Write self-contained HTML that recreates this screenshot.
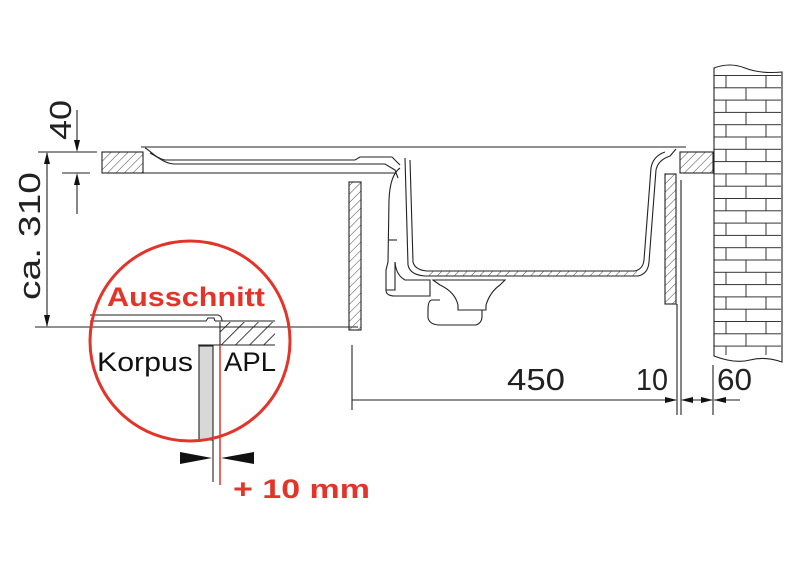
<!DOCTYPE html>
<html><head><style>
html,body{margin:0;padding:0;background:#fff;}
svg{display:block;}
text{font-family:"Liberation Sans",sans-serif;}
</style></head><body>
<svg width="800" height="562" viewBox="0 0 800 562" xmlns="http://www.w3.org/2000/svg">
<defs>
<pattern id="h" width="6" height="6" patternUnits="userSpaceOnUse" patternTransform="rotate(45)">
<line x1="0" y1="0" x2="0" y2="6" stroke="#444" stroke-width="1"/>
</pattern>
<pattern id="h2" width="10" height="10" patternUnits="userSpaceOnUse" patternTransform="rotate(45)">
<line x1="0" y1="0" x2="0" y2="10" stroke="#111" stroke-width="1.6"/>
</pattern>
<pattern id="brick" x="714" y="75" width="40" height="24.6" patternUnits="userSpaceOnUse">
<line x1="0" y1="0.5" x2="40" y2="0.5" stroke="#333" stroke-width="1"/>
<line x1="0" y1="12.8" x2="40" y2="12.8" stroke="#333" stroke-width="1"/>
<line x1="12" y1="0" x2="12" y2="12.3" stroke="#333" stroke-width="1"/>
<line x1="32" y1="12.3" x2="32" y2="24.6" stroke="#333" stroke-width="1"/>
</pattern>
</defs>
<g fill="none" stroke="#222" stroke-width="1.1">
<line x1="38" y1="152" x2="97" y2="152"/>
<line x1="62" y1="173" x2="90" y2="173"/>
<line x1="77" y1="110" x2="77" y2="150"/>
<line x1="77" y1="175" x2="77" y2="214"/>
<line x1="47" y1="153" x2="47" y2="326"/>
<line x1="35" y1="327" x2="358" y2="327"/>
<rect x="102" y="152" width="41" height="21" fill="url(#h)"/>
<line x1="143" y1="173" x2="395" y2="173"/>
<path d="M141 147 L686 147"/>
<path d="M145 148 C150 150 155 158 165 160 L355 160 L360 157 L392 157 L400 165"/>
<path d="M150 153 C160 158 165 164 175 164 L385 164 L395 170 L398 178"/>
<path d="M405 158 L408 265 Q410 275 425 276 L638 276 Q648 274 649 262 L656 170 Q658 160 670 156 L676 149"/>
<path d="M410 160 L413 262 Q415 270 427 271 L635 271 Q643 269 644 260 L651 168 Q653 156 665 152"/>
<rect x="425" y="271" width="212" height="5" fill="url(#h)" stroke="none"/>
<path d="M400 168 Q390 175 389 200 L388 262 L386 270 L386 290 L395 290 L395 262"/>
<path d="M395 262 Q396 275 405 280 L430 280 L430 296 L395 296 Q386 296 386 290"/>
<line x1="389" y1="240" x2="397" y2="240"/>
<path d="M433 280 L505 280 L500 285 Q490 292 486 305 L486 310 L458 310 L458 305 Q455 292 440 285 Z"/>
<path d="M440 300 L432 300 Q428 300 428 310 L428 318 Q430 325 440 325 L476 325 Q482 323 482 316 L482 310"/>
<rect x="349" y="182" width="12" height="148" fill="url(#h)"/>
<rect x="665" y="174" width="11" height="130" fill="url(#h)"/>
<line x1="677" y1="304" x2="677" y2="415"/>
<line x1="681" y1="180" x2="681" y2="415"/>
<rect x="680" y="152" width="33" height="21" fill="url(#h)"/>
<rect x="714" y="75" width="67" height="280" fill="url(#brick)" stroke="none"/>
<path d="M714 68 Q730 62 745 68 T782 72 L782 362 Q765 356 750 360 T714 356 Z"/>
<line x1="352" y1="345" x2="352" y2="410"/>
<line x1="713" y1="365" x2="713" y2="415"/>
<line x1="352" y1="400" x2="676" y2="400"/>
<line x1="682" y1="400" x2="712" y2="400"/>
<line x1="714" y1="400" x2="740" y2="400"/>
</g>
<g fill="#111">
<polygon points="77,152 74,140 80,140"/>
<polygon points="77,173 74,185 80,185"/>
<polygon points="47,152 44,164 50,164"/>
<polygon points="47,327 44,315 50,315"/>
<polygon points="677,400 665,397 665,403"/>
<polygon points="681,400 693,397 693,403"/>
<polygon points="713,400 701,397 701,403"/>
<polygon points="714,400 726,397 726,403"/>
</g>
<g font-size="31" fill="#222">
<text x="0" y="0" transform="translate(71,140) rotate(-90)" textLength="40" lengthAdjust="spacingAndGlyphs">40</text>
<text x="0" y="0" transform="translate(40,300) rotate(-90)" textLength="128" lengthAdjust="spacingAndGlyphs">ca. 310</text>
<text x="507" y="390" textLength="58" lengthAdjust="spacingAndGlyphs">450</text>
<text x="636" y="390" textLength="32" lengthAdjust="spacingAndGlyphs">10</text>
<text x="717" y="390" textLength="35" lengthAdjust="spacingAndGlyphs">60</text>
</g>
<g fill="none" stroke="#222" stroke-width="1.1">
<path d="M90 315 L218 315 Q222 316 222 321"/>
<path d="M90 321 L206 321 L208 318 L214 318 L215 321"/>
<line x1="215" y1="321" x2="275" y2="321"/>
<rect x="220" y="322" width="55" height="23" fill="url(#h2)" stroke="none"/>
<line x1="198" y1="345" x2="275" y2="345"/>
<line x1="220" y1="322" x2="220" y2="345"/>
<rect x="199" y="346" width="14" height="94" fill="#d8d8d8"/>
<line x1="213" y1="440" x2="213" y2="482"/>
</g>
<line x1="220" y1="345" x2="220" y2="485" stroke="#e3342a" stroke-width="1.5"/>
<circle cx="190" cy="341" r="100" fill="none" stroke="#e3342a" stroke-width="3"/>
<g fill="#111">
<polygon points="212,458 180,452 180,464"/>
<polygon points="221,458 254,452 254,464"/>
</g>
<text x="107" y="306" font-size="27" font-weight="bold" fill="#e3342a" textLength="158" lengthAdjust="spacingAndGlyphs">Ausschnitt</text>
<text x="97" y="371" font-size="27" fill="#111" textLength="96" lengthAdjust="spacingAndGlyphs">Korpus</text>
<text x="224" y="371" font-size="27" fill="#111" textLength="52" lengthAdjust="spacingAndGlyphs">APL</text>
<text x="233" y="498" font-size="27" font-weight="bold" fill="#e3342a" textLength="137" lengthAdjust="spacingAndGlyphs">+ 10 mm</text>
</svg>
</body></html>
